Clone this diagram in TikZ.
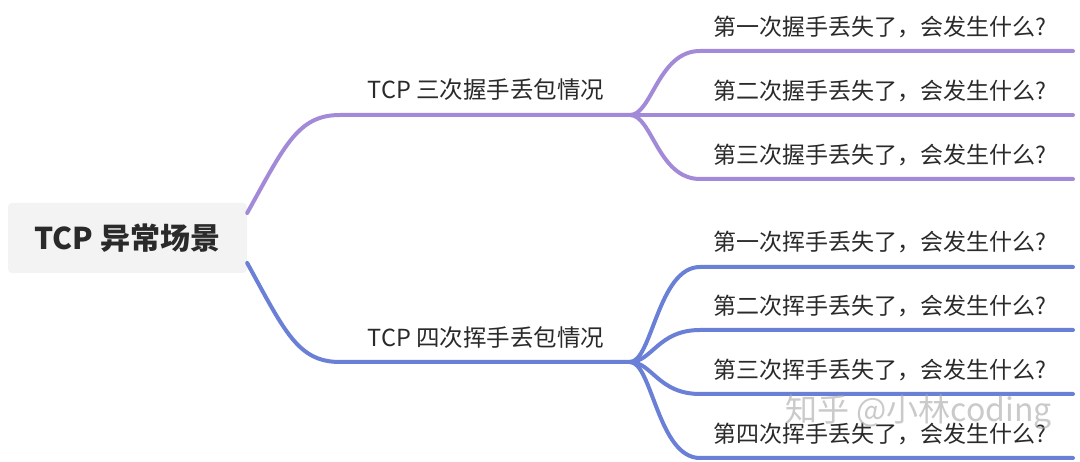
\documentclass[tikz,border=0pt]{standalone}
\usepackage{fontspec}
\setmainfont{Noto Sans CJK SC}
\usetikzlibrary{calc}
\definecolor{purp}{HTML}{A38AD9}
\definecolor{blu}{HTML}{6A7FD6}
\definecolor{txt}{HTML}{2A2A2A}
\definecolor{rootbg}{HTML}{F3F3F3}
\tikzset{
  rootbox/.style={fill=rootbg, rounded corners=4pt, minimum width=239pt, minimum height=70pt,
    inner sep=0pt, text=txt, font=\fontsize{30pt}{34pt}\selectfont\bfseries},
  branchlabel/.style={inner sep=0pt, text=txt, font=\fontsize{23.5pt}{27pt}\selectfont},
  leaflabel/.style={inner sep=0pt, text=txt, font=\fontsize{23pt}{27pt}\selectfont},
  edge/.style={line width=4pt, line cap=round},
  mark1/.style={text=black!35, text opacity=0.6, inner sep=0pt, font=\fontsize{32pt}{36pt}\selectfont}
}
\begin{document}
\begin{tikzpicture}[x=1pt,y=-1pt]
\useasboundingbox (0,0) rectangle (1080,462);
% root
\node[rootbox] (root) at (127.5,238) {TCP 异常场景};
% branch labels
\node[branchlabel] (b1) at (486,90) {TCP 三次握手丢包情况};
\node[branchlabel] (b2) at (486,338) {TCP 四次挥手丢包情况};
% junctions
\coordinate (r1) at ($(root.east)+(0,-25)$);
\coordinate (r2) at ($(root.east)+(0,25)$);
\coordinate (s1) at (340,115);
\coordinate (j1) at (630,115);
\coordinate (s2) at (340,362);
\coordinate (j2) at (630,362);
% leaf labels
\node[leaflabel] (p1) at (880,27) {第一次握手丢失了，会发生什么?};
\node[leaflabel] (p2) at (880,91) {第二次握手丢失了，会发生什么?};
\node[leaflabel] (p3) at (880,155) {第三次握手丢失了，会发生什么?};
\node[leaflabel] (q1) at (880,242) {第一次挥手丢失了，会发生什么?};
\node[leaflabel] (q2) at (880,306) {第二次挥手丢失了，会发生什么?};
\node[leaflabel] (q3) at (880,370) {第三次挥手丢失了，会发生什么?};
\node[leaflabel] (q4) at (880,434) {第四次挥手丢失了，会发生什么?};
% leaf line coordinates
\foreach \n/\y in {p1/51,p2/115,p3/179,q1/267,q2/330,q3/394,q4/458}{
  \coordinate (\n a) at (700,\y);
  \coordinate (\n b) at (1073,\y);
}
% purple branch
\draw[edge, purp] (r1) .. controls (285,145) and (298,115) .. (s1) -- (j1);
\foreach \n in {p1,p2,p3}{
  \draw[edge, purp] (j1) .. controls ($(j1)+(22,0)$) and ($(\n a)+(-42,0)$) .. (\n a) -- (\n b);
}
% blue branch
\draw[edge, blu] (r2) .. controls (285,332) and (298,362) .. (s2) -- (j2);
\foreach \n in {q1,q2,q3,q4}{
  \draw[edge, blu] (j2) .. controls ($(j2)+(22,0)$) and ($(\n a)+(-42,0)$) .. (\n a) -- (\n b);
}
% watermark
\node[mark1, anchor=west] (wm) at (785,412) {知乎 @小林coding};
\end{tikzpicture}
\end{document}
